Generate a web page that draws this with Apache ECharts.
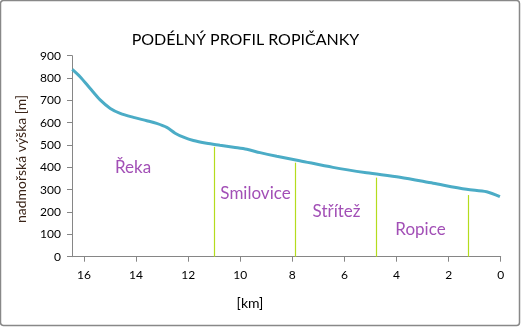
<!DOCTYPE html>
<html>
<head>
<meta charset="utf-8">
<script src="https://cdn.jsdelivr.net/npm/echarts@6/dist/echarts.min.js"></script>
<style>
  html, body { margin: 0; padding: 0; background: #fff; }
  #chart { width: 521px; height: 327px; }
</style>
</head>
<body>
<div id="chart"></div>
<script>
// Longitudinal profile of the Ropičanka stream: distance to mouth [km] vs. elevation [m]
const distanceKm = [16.45, 16.15, 15.77, 15.38, 14.99, 14.61, 14.10, 13.59, 13.21, 12.82, 12.50, 12.18, 11.80, 11.29, 10.78, 10.26, 9.75, 9.24, 8.6, 7.72, 6.44, 5.15, 3.87, 2.59, 1.31, 0.54, 0.03];
const elevationM = [839, 806, 754, 702, 664, 642, 624, 609, 597, 579, 553, 535, 520, 508, 499, 490, 481, 466, 450, 430, 400, 376, 356, 329, 302, 291, 269];

// Section boundaries along the stream and the height each marker reaches
const boundaryKm = [10.98, 7.88, 4.78, 1.25];
const boundaryTopM = [492, 421, 354, 276];

// Section names
const sectionNames = ['Řeka', 'Smilovice', 'Střítež', 'Ropice'];

const xTicks = [0, 2, 4, 6, 8, 10, 12, 14, 16];
const yTicks = [0, 100, 200, 300, 400, 500, 600, 700, 800, 900];

const FONT = 'Lato, "Open Sans", sans-serif';
const chart = echarts.init(document.getElementById('chart'));

const profile = distanceKm.map((d, i) => [d, elevationM[i]]);
const boundaryLines = boundaryKm.map((d, i) => [
  { coord: [d, 0] },
  { coord: [d, boundaryTopM[i]] }
]);

// Label anchors in pixels
const labelPos = [[133, 168], [255.5, 194], [336.5, 212], [420.5, 230]];

chart.setOption({
  animation: false,
  backgroundColor: '#fff',
  grid: { left: 72, right: 20.3, top: 55.7, bottom: 70.3, containLabel: false },
  xAxis: {
    type: 'value',
    inverse: true,
    min: 0,
    max: 16.46,
    interval: 2,
    axisLine: { onZero: false, lineStyle: { color: '#868686', width: 1 } },
    axisTick: { show: true, length: 5, lineStyle: { color: '#868686' } },
    splitLine: { show: false },
    axisLabel: {
      showMaxLabel: false,
      margin: 12,
      color: '#000',
      fontFamily: FONT,
      fontSize: 12,
      formatter: v => (xTicks.includes(v) ? String(v) : '')
    }
  },
  yAxis: {
    type: 'value',
    min: 0,
    max: 900,
    interval: 100,
    axisLine: { show: true, onZero: false, lineStyle: { color: '#868686', width: 1 } },
    axisTick: { show: true, length: 5, lineStyle: { color: '#868686' } },
    splitLine: { show: false },
    axisLabel: {
      margin: 11,
      color: '#000',
      fontFamily: FONT,
      fontSize: 12,
      formatter: v => (yTicks.includes(v) ? String(v) : '')
    }
  },
  series: [
    {
      type: 'line',
      data: profile,
      smooth: 0.3,
      showSymbol: false,
      lineStyle: { color: '#4bacc6', width: 3 },
      markLine: {
        silent: true,
        symbol: 'none',
        label: { show: false },
        lineStyle: { color: '#b4dc1e', width: 1.2, type: 'solid' },
        data: boundaryLines
      },
      z: 3
    }
  ],
  graphic: [
    {
      type: 'rect',
      shape: { x: 0.5, y: 0.5, width: 519, height: 325, r: 3 },
      style: { fill: null, stroke: '#888', lineWidth: 1.5 },
      silent: true
    },
    {
      type: 'text',
      x: 245.5, y: 40,
      style: {
        text: 'PODÉLNÝ PROFIL ROPIČANKY',
        font: '16px ' + FONT,
        fill: '#000',
        align: 'center',
        verticalAlign: 'middle'
      }
    },
    {
      type: 'text',
      x: 21, y: 159,
      rotation: Math.PI / 2,
      style: {
        text: 'nadmořská výška [m]',
        font: '14px ' + FONT,
        fill: '#3a2418',
        align: 'center',
        verticalAlign: 'middle'
      }
    },
    {
      type: 'text',
      x: 250, y: 303,
      style: {
        text: '[km]',
        font: '14px ' + FONT,
        fill: '#000',
        align: 'center',
        verticalAlign: 'middle'
      }
    },
    ...sectionNames.map((name, i) => ({
      type: 'text',
      x: labelPos[i][0], y: labelPos[i][1],
      style: {
        text: name,
        font: '17px ' + FONT,
        fill: '#a24fb6',
        align: 'center',
        verticalAlign: 'middle'
      }
    }))
  ]
});
</script>
</body>
</html>
